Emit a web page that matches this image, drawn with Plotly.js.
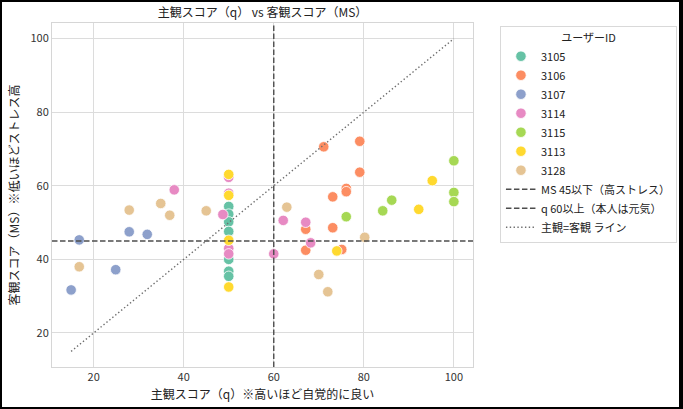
<!DOCTYPE html>
<html>
<head>
<meta charset="utf-8">
<script src="https://cdn.plot.ly/plotly-3.0.1.min.js"></script>
<style>
html,body{margin:0;padding:0;background:#fff;overflow:hidden;}
#chart{width:683px;height:409px;}
#frame{position:fixed;left:0;top:0;width:683px;height:409px;box-sizing:border-box;border-style:solid;border-color:#000;border-width:2px 4px 2px 2px;pointer-events:none;}
</style>
</head>
<body>
<div id="chart"></div>
<div id="frame"></div>
<script>
// ---- data ----
const userIds = ["3105", "3106", "3107", "3114", "3115", "3113", "3128"];
const q3105 = [50, 50, 50, 50, 50, 50, 50];
const ms3105 = [54.4, 52.3, 50.2, 47.6, 40.0, 36.8, 35.4];
const q3106 = [71.1, 79.1, 79.1, 76.1, 76.1, 73.1, 67.1, 73.1, 67.1, 75.1];
const ms3106 = [70.6, 72.1, 63.7, 59.3, 58.4, 57.0, 48.2, 48.6, 42.5, 42.7];
const q3107 = [16.8, 27.9, 31.9, 24.9, 15.0];
const ms3107 = [45.3, 47.5, 46.8, 37.2, 31.7];
const q3114 = [37.9, 50, 50, 50, 50, 48.7, 62.1, 67.1, 68.2, 60.0];
const ms3114 = [58.9, 62.3, 58.0, 43.0, 41.5, 52.2, 50.6, 50.1, 44.5, 41.5];
const q3115 = [100, 100, 100, 86.2, 84.2, 76.1];
const ms3115 = [66.8, 58.2, 55.7, 56.1, 53.2, 51.6];
const q3113 = [50, 50, 50, 50, 95.2, 92.2, 74.0];
const ms3113 = [63.1, 57.4, 45.2, 32.5, 61.4, 53.6, 42.3];
const q3128 = [16.8, 27.9, 34.9, 36.9, 45.0, 62.9, 70.0, 72.0, 80.2];
const ms3128 = [38.0, 53.4, 55.2, 52.0, 53.2, 54.2, 35.9, 31.2, 46.0];
const colors = ["#66c2a5", "#fc8d62", "#8da0cb", "#e78ac3", "#a6d854", "#ffd92f", "#e5c494"];
const msThreshold = 45;
const qThreshold = 60;
const axisRange = [10.75, 104.25];
const tickVals = [20, 40, 60, 80, 100];
const lineLabels = ["MS 45以下（高ストレス）", "q 60以上（本人は元気）", "主観=客観 ライン"];

const qs = [q3105, q3106, q3107, q3114, q3115, q3113, q3128];
const mss = [ms3105, ms3106, ms3107, ms3114, ms3115, ms3113, ms3128];

const font = "Noto Sans CJK JP, Noto Sans, sans-serif";
const traces = [];
userIds.forEach((id, i) => {
  traces.push({
    type: "scatter", mode: "markers", name: id,
    x: qs[i], y: mss[i],
    marker: {color: colors[i], size: 10.5, opacity: 1, line: {color: "#ffffff", width: 0.8}},
    hoverinfo: "x+y+name"
  });
});
const allQ = [].concat(...qs);
const qMin = Math.min(...allQ), qMax = Math.max(...allQ);
traces.push({type: "scatter", mode: "lines", name: lineLabels[0],
  x: axisRange, y: [msThreshold, msThreshold],
  line: {color: "#4d4d4d", width: 1.4, dash: "5.5px,2.5px"}});
traces.push({type: "scatter", mode: "lines", name: lineLabels[1],
  x: [qThreshold, qThreshold], y: axisRange,
  line: {color: "#4d4d4d", width: 1.4, dash: "5.5px,2.5px"}});
traces.push({type: "scatter", mode: "lines", name: lineLabels[2],
  x: [qMin, qMax], y: [qMin, qMax],
  line: {color: "#6e6e6e", width: 1.4, dash: "1.4px,2.4px"}});

const axisCommon = {
  range: axisRange, tickvals: tickVals, showgrid: true, gridcolor: "#dcdcdc", gridwidth: 1,
  zeroline: false, showline: true, linecolor: "#d6d6d6", linewidth: 1, mirror: true,
  ticks: "", tickfont: {family: font, size: 11, color: "#333"}, automargin: false
};
const layout = {
  width: 683, height: 409,
  margin: {l: 52, r: 210, t: 23, b: 42, autoexpand: false},
  paper_bgcolor: "#ffffff", plot_bgcolor: "#ffffff",
  font: {family: font, color: "#222"},
  title: {text: "主観スコア（q） vs 客観スコア（MS）", font: {family: font, size: 12, color: "#222"},
    x: 0.5, xref: "paper", xanchor: "center", y: 1 - 13 / 409, yref: "container", yanchor: "middle"},
  xaxis: Object.assign({}, axisCommon, {
    title: {text: "主観スコア（q）※高いほど自覚的に良い", font: {family: font, size: 12, color: "#222"}, standoff: 7}
  }),
  yaxis: Object.assign({}, axisCommon, {
    title: {text: "客観スコア（MS）※低いほどストレス高", font: {family: font, size: 12, color: "#222"}, standoff: 8}
  }),
  showlegend: true,
  legend: {
    x: 1.064, xanchor: "left", y: 0.99, yanchor: "top",
    bordercolor: "#d9d9d9", borderwidth: 1, bgcolor: "#ffffff",
    font: {family: font, size: 11, color: "#222"},
    title: {text: "ユーザーID", side: "top center", font: {family: font, size: 11, color: "#222"}},
    tracegroupgap: 0, itemwidth: 30
  }
};
Plotly.newPlot("chart", traces, layout, {displayModeBar: false, staticPlot: true});
</script>
</body>
</html>
